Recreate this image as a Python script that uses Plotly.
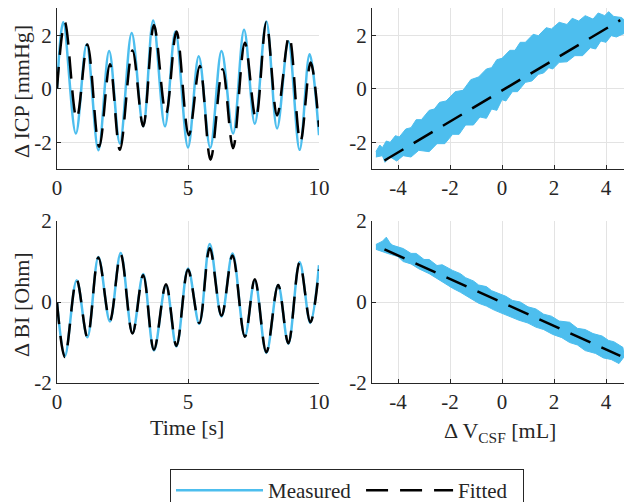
import plotly.graph_objects as go

# ---------------- data ----------------
# Top-left: Delta ICP over time, extrema of measured and fitted curves
icp_meas_t = [0, 0.24, 0.72, 1.13, 1.58, 1.99, 2.40, 2.85, 3.29, 3.67, 4.12, 4.52, 5.00, 5.41, 5.85,
              6.28, 6.72, 7.14, 7.55, 7.99, 8.40, 8.83, 9.26, 9.64, 10.0]
icp_meas_y = [0, 2.50, -1.67, 1.67, -2.30, 1.42, -2.04, 2.10, -1.40, 2.57, -1.40, 2.16, -2.19, 1.23, -2.20,
              1.42, -1.67, 2.22, -1.30, 2.53, -1.48, 1.79, -2.28, 1.30, -1.73]
icp_fit_t = [0, 0.30, 0.75, 1.16, 1.61, 2.02, 2.40, 2.88, 3.29, 3.70, 4.16, 4.56, 5.03, 5.45, 5.86,
             6.32, 6.72, 7.17, 7.59, 7.99, 8.40, 8.86, 9.29, 9.68, 10.0]
icp_fit_y = [0, 2.50, -1.11, 1.67, -2.16, 0.93, -2.28, 1.44, -1.40, 2.40, -0.93, 2.16, -1.73, 0.86, -2.65,
             0.74, -2.22, 1.73, -1.11, 2.50, -0.99, 1.98, -1.98, 0.99, -1.42]

# Bottom-left: Delta BI over time
bi_meas_t = [0, 0.30, 0.75, 1.16, 1.58, 2.02, 2.43, 2.88, 3.29, 3.70, 4.16, 4.56, 5.00, 5.43, 5.83,
             6.28, 6.70, 7.17, 7.55, 7.99, 8.44, 8.83, 9.26, 9.67, 10.0]
bi_meas_y = [0, -1.34, 0.54, -0.87, 1.11, -0.48, 1.21, -0.77, 0.69, -1.20, 0.42, -1.10, 0.83, -0.54, 1.43,
             -0.36, 1.20, -0.85, 0.54, -1.26, 0.42, -1.03, 0.99, -0.52, 0.91]
bi_fit_t = bi_meas_t
bi_fit_y = [0, -1.36, 0.55, -0.87, 1.10, -0.46, 1.18, -0.78, 0.66, -1.18, 0.44, -1.08, 0.80, -0.52, 1.33,
            -0.34, 1.15, -0.86, 0.56, -1.24, 0.42, -1.02, 0.97, -0.50, 0.80]

# Top-right: measured ICP vs Delta V_CSF (band edges, jagged) and fitted line
icp_band_up_x = [-4.85, -4.7, -4.6, -4.45, -4.3, -4.1, -3.95, -3.7, -3.5, -3.3, -3.1, -2.8, -2.6, -2.4, -2.15,
                 -1.8, -1.5, -1.2, -0.9, -0.6, -0.4, -0.2, 0.0, 0.3, 0.5, 0.7, 0.9, 1.2, 1.4, 1.7, 1.9,
                 2.2, 2.5, 2.7, 2.95, 3.2, 3.5, 3.7, 3.95, 4.1, 4.3, 4.6, 4.85]
icp_band_up_y = [-2.35, -2.1, -2.2, -1.95, -2.0, -1.75, -1.8, -1.5, -1.45, -1.15, -1.15, -0.8, -0.75, -0.5, -0.45,
                 -0.1, -0.05, 0.35, 0.45, 0.75, 0.8, 1.1, 1.15, 1.45, 1.45, 1.75, 1.75, 2.05, 2.0, 2.3, 2.25,
                 2.5, 2.42, 2.65, 2.55, 2.75, 2.62, 2.85, 2.75, 2.9, 2.72, 2.68, 2.45]
icp_band_lo_x = [-4.85, -4.6, -4.5, -4.3, -4.05, -3.8, -3.5, -3.2, -2.8, -2.5, -2.2, -1.9, -1.65, -1.4, -1.1,
                 -0.85, -0.6, -0.4, -0.2, 0.0, 0.15, 0.4, 0.6, 0.9, 1.15, 1.4, 1.6, 1.8, 1.95, 2.2,
                 2.5, 2.8, 3.1, 3.4, 3.6, 3.8, 4.0, 4.2, 4.4, 4.85]
icp_band_lo_y = [-2.55, -2.5, -2.75, -2.55, -2.7, -2.5, -2.55, -2.3, -2.35, -2.05, -2.05, -1.7, -1.7, -1.35, -1.35,
                 -1.05, -1.1, -0.75, -0.8, -0.4, -0.45, -0.1, -0.1, 0.25, 0.3, 0.55, 0.6, 0.8, 0.75, 1.0,
                 1.02, 1.25, 1.25, 1.55, 1.5, 1.8, 1.75, 2.0, 1.95, 2.15]
icp_fitline_x = [-4.52, 4.55]
icp_fitline_y = [-2.68, 2.58]

# Bottom-right: measured BI vs Delta V_CSF (band edges, jagged) and fitted line
bi_band_up_x = [-4.85, -4.6, -4.45, -4.3, -4.2, -3.8, -3.5, -3.3, -3.0, -2.8, -2.5, -2.3, -1.9, -1.6, -1.4,
                -1.1, -0.9, -0.6, -0.4, 0.15, 0.4, 0.7, 1.0, 1.3, 1.6, 1.9, 2.2, 2.6, 2.9, 3.2, 3.5,
                3.85, 4.1, 4.3, 4.65]
bi_band_up_y = [1.42, 1.5, 1.6, 1.45, 1.4, 1.32, 1.2, 1.2, 1.05, 1.05, 0.9, 0.92, 0.78, 0.7, 0.6,
                0.52, 0.42, 0.38, 0.28, 0.14, 0.04, 0.0, -0.12, -0.17, -0.3, -0.35, -0.47, -0.5, -0.65, -0.68, -0.78,
                -0.84, -0.95, -0.98, -1.12]
bi_band_lo_x = [-4.85, -4.4, -4.0, -3.8, -3.5, -3.2, -2.8, -2.5, -2.2, -1.9, -1.6, -1.4, -1.1, -0.9, -0.6,
                -0.3, 0.0, 0.3, 0.65, 1.0, 1.3, 1.6, 1.95, 2.3, 2.6, 2.9, 3.2, 3.6, 3.9, 4.2, 4.5, 4.7]
bi_band_lo_y = [1.3, 1.2, 1.12, 1.0, 0.94, 0.82, 0.7, 0.6, 0.46, 0.34, 0.24, 0.17, 0.05, -0.03, -0.1,
                -0.2, -0.28, -0.35, -0.45, -0.52, -0.62, -0.68, -0.8, -0.88, -1.0, -1.06, -1.2, -1.27, -1.38, -1.42,
                -1.52, -1.35]
bi_fitline_x = [-4.52, 4.55]
bi_fitline_y = [1.30, -1.33]

time_ticks = [0, 5, 10]
time_labels = ["0", "5", "10"]
vcsf_ticks = [-4, -2, 0, 2, 4]
vcsf_labels = ["-4", "-2", "0", "2", "4"]
icp_ticks = [-2, 0, 2]
icp_labels = ["-2", "0", "2"]
bi_ticks = [-2, 0, 2]
bi_labels = ["-2", "0", "2"]

# ---------------- styling ----------------
BLUE = "#4DBEEE"
BLACK = "#000000"
AX = "#262626"
GRID = "#e3e3e3"
FONT = "Liberation Serif"
OFF = 8                      # page body margin
W, H = 632 - OFF, 502 - OFF
DASH = "22px,12px"


def px(xp):
    return (xp - OFF) / W


def py(yp):
    return 1 - (yp - OFF) / H


fig = go.Figure()

# Top-left
fig.add_trace(go.Scatter(x=icp_meas_t, y=icp_meas_y, mode="lines", line=dict(color=BLUE, width=2.5, shape="spline"),
                         name="Measured\u00a0", xaxis="x", yaxis="y", showlegend=True))
fig.add_trace(go.Scatter(x=icp_fit_t, y=icp_fit_y, mode="lines",
                         line=dict(color=BLACK, width=2.5, shape="spline", dash=DASH),
                         name="Fitted\u00a0\u00a0", xaxis="x", yaxis="y", showlegend=True))
# Top-right
fig.add_trace(go.Scatter(x=icp_band_up_x + icp_band_lo_x[::-1], y=icp_band_up_y + icp_band_lo_y[::-1],
                         mode="lines", fill="toself", fillcolor=BLUE, line=dict(color=BLUE, width=1),
                         xaxis="x2", yaxis="y2", showlegend=False))
fig.add_trace(go.Scatter(x=icp_fitline_x, y=icp_fitline_y, mode="lines",
                         line=dict(color=BLACK, width=2.5, dash=DASH), xaxis="x2", yaxis="y2", showlegend=False))
# Bottom-left
fig.add_trace(go.Scatter(x=bi_meas_t, y=bi_meas_y, mode="lines", line=dict(color=BLUE, width=2.5, shape="spline"),
                         xaxis="x3", yaxis="y3", showlegend=False))
fig.add_trace(go.Scatter(x=bi_fit_t, y=bi_fit_y, mode="lines",
                         line=dict(color=BLACK, width=2.5, shape="spline", dash=DASH),
                         xaxis="x3", yaxis="y3", showlegend=False))
# Bottom-right
fig.add_trace(go.Scatter(x=bi_band_up_x + bi_band_lo_x[::-1], y=bi_band_up_y + bi_band_lo_y[::-1],
                         mode="lines", fill="toself", fillcolor=BLUE, line=dict(color=BLUE, width=1),
                         xaxis="x4", yaxis="y4", showlegend=False))
fig.add_trace(go.Scatter(x=bi_fitline_x, y=bi_fitline_y, mode="lines",
                         line=dict(color=BLACK, width=2.5, dash=DASH), xaxis="x4", yaxis="y4", showlegend=False))


def ax(domain, rng, ticks, labels, anchor):
    return dict(domain=domain, range=rng, tickvals=ticks, ticktext=labels, anchor=anchor, showgrid=True,
                gridcolor=GRID, gridwidth=1, zeroline=False, showline=True, linecolor=AX, linewidth=1,
                ticks="inside", ticklen=4, tickcolor=AX, automargin=False,
                tickfont=dict(family=FONT, size=21, color=AX), fixedrange=True)


xl = [px(57), px(319)]
xr = [px(372), 1.0]
yt = [py(169), 1.0]
yb = [py(383), py(221)]

fig.update_layout(
    width=W, height=H, margin=dict(l=0, r=0, t=0, b=0, autoexpand=False),
    paper_bgcolor="white", plot_bgcolor="white",
    font=dict(family=FONT, size=21, color=AX),
    xaxis=ax(xl, [0, 10], time_ticks, time_labels, "y"),
    yaxis=ax(yt, [-3, 3 + 1 / 27], icp_ticks, icp_labels, "x"),
    xaxis2=ax(xr, [-5, 5], vcsf_ticks, vcsf_labels, "y2"),
    yaxis2=ax(yt, [-3, 3 + 1 / 27], icp_ticks, icp_labels, "x2"),
    xaxis3=ax(xl, [0, 10], time_ticks, time_labels, "y3"),
    yaxis3=ax(yb, [-2, 2], bi_ticks, bi_labels, "x3"),
    xaxis4=ax(xr, [-5, 5], vcsf_ticks, vcsf_labels, "y4"),
    yaxis4=ax(yb, [-2, 2], bi_ticks, bi_labels, "x4"),
    legend=dict(orientation="h", x=px(170), xanchor="left", y=py(469), yanchor="top",
                bordercolor=AX, borderwidth=1, bgcolor="white", font=dict(family=FONT, size=21, color=AX),
                itemwidth=87),
    showlegend=True,
)

ann = dict(xref="paper", yref="paper", showarrow=False, xanchor="center", yanchor="middle",
           font=dict(family=FONT, size=22, color=AX))
fig.add_annotation(text="Δ ICP [mmHg]", x=px(21), y=py(92), textangle=-90, **ann)
fig.add_annotation(text="Δ BI [Ohm]", x=px(21), y=py(305), textangle=-90, **ann)
fig.add_annotation(text="Time [s]", x=px(187), y=py(427), **ann)
fig.add_annotation(text="Δ V<sub>CSF</sub> [mL]", x=px(500), y=py(432), **ann)

fig.write_html("out.html")
